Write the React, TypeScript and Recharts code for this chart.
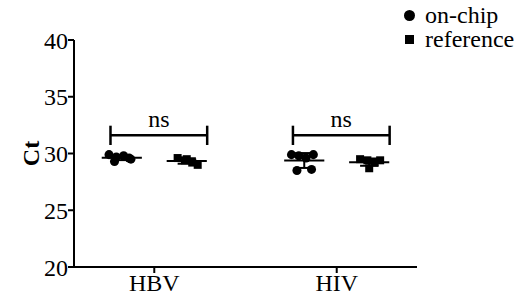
import React from 'react';
import {
  ScatterChart, Scatter, XAxis, YAxis, ZAxis, ReferenceLine,
} from 'recharts';

const categories = ['HBV', 'HIV'];
const yTicks = [20, 25, 30, 35, 40];

// Ct values
const onChipHBV = [29.9, 29.7, 29.8, 29.5, 29.3, 29.6];
const referenceHBV = [29.6, 29.4, 29.2, 29.5, 29.0];
const onChipHIV = [29.9, 29.8, 29.6, 29.9, 28.5, 28.6];
const referenceHIV = [29.5, 29.4, 29.2, 28.7, 29.4];

// horizontal spread of the dots inside a group (x units)
const onChipJitter = [-0.07, -0.03, 0.01, 0.05, -0.04, 0.04];
const referenceJitter = [-0.05, -0.01, 0.03, 0.0, 0.06];

const GROUP_OFFSET = 0.178;
const FONT = 'Liberation Serif';

const toPoints = (vals: number[], center: number, jitter: number[]) =>
  vals.map((v, i) => ({ x: center + jitter[i % jitter.length], y: v }));

const mean = (a: number[]) => a.reduce((s, v) => s + v, 0) / a.length;
const sd = (a: number[]) => {
  const m = mean(a);
  return Math.sqrt(a.reduce((s, v) => s + (v - m) * (v - m), 0) / (a.length - 1));
};

const groups = [
  { vals: onChipHBV, center: 1 - GROUP_OFFSET },
  { vals: referenceHBV, center: 1 + GROUP_OFFSET },
  { vals: onChipHIV, center: 2 - GROUP_OFFSET },
  { vals: referenceHIV, center: 2 + GROUP_OFFSET },
];

const onChipPoints = [
  ...toPoints(onChipHBV, 1 - GROUP_OFFSET, onChipJitter),
  ...toPoints(onChipHIV, 2 - GROUP_OFFSET, onChipJitter),
];
const referencePoints = [
  ...toPoints(referenceHBV, 1 + GROUP_OFFSET, referenceJitter),
  ...toPoints(referenceHIV, 2 + GROUP_OFFSET, referenceJitter),
];

const BRACKET_Y = 31.6;
const BRACKET_CAP = 0.85;

const CtLabel = (props: any) => {
  const { viewBox } = props;
  const cy = viewBox.y + viewBox.height / 2;
  return (
    <text x={31} y={cy} transform={`rotate(-90, 31, ${cy})`} textAnchor="middle"
      dominantBaseline="central" style={{ fontFamily: FONT, fontWeight: 'bold', fontSize: 24 }} fill="#000">
      Ct
    </text>
  );
};

const tickStyle = { fill: '#000', fontSize: 24, style: { fontFamily: FONT } };

export default function App() {
  return (
    <div style={{ position: 'absolute', left: 0, top: 0, width: 519, height: 300, background: '#fff', fontFamily: FONT, overflow: 'hidden' }}>
      <ScatterChart width={519} height={300} margin={{ top: 40, right: 102, bottom: 0, left: 0 }}>
        <XAxis
          type="number" dataKey="x" domain={[0.56, 2.44]} ticks={[1, 2]}
          tickFormatter={(v: number) => categories[v - 1]}
          height={33} allowDataOverflow
          axisLine={{ stroke: '#000', strokeWidth: 2 }}
          tickLine={{ stroke: '#000', strokeWidth: 2 }} tickSize={6} tickMargin={1}
          tick={tickStyle}
        />
        <YAxis
          type="number" dataKey="y" domain={[20, 40]} ticks={yTicks} width={74}
          axisLine={{ stroke: '#000', strokeWidth: 2 }}
          tickLine={{ stroke: '#000', strokeWidth: 2 }} tickSize={6} tickMargin={0}
          tick={tickStyle}
          label={<CtLabel />}
        />
        <ZAxis range={[115, 115]} />

        {groups.map((g, i) => {
          const m = mean(g.vals);
          const s = sd(g.vals);
          return (
            <React.Fragment key={`g-${i}`}>
              <ReferenceLine segment={[{ x: g.center - 0.11, y: m }, { x: g.center + 0.11, y: m }]} stroke="#000" strokeWidth={2} />
              <ReferenceLine segment={[{ x: g.center, y: m - s }, { x: g.center, y: m + s }]} stroke="#000" strokeWidth={2} />
              <ReferenceLine segment={[{ x: g.center - 0.05, y: m + s }, { x: g.center + 0.05, y: m + s }]} stroke="#000" strokeWidth={2} />
              <ReferenceLine segment={[{ x: g.center - 0.05, y: m - s }, { x: g.center + 0.05, y: m - s }]} stroke="#000" strokeWidth={2} />
            </React.Fragment>
          );
        })}

        <Scatter name="on-chip" data={onChipPoints} fill="#000" shape="circle" isAnimationActive={false} />
        <Scatter name="reference" data={referencePoints} fill="#000" shape="square" isAnimationActive={false} />

        {[1, 2].map((c) => (
          <React.Fragment key={`b-${c}`}>
            <ReferenceLine segment={[{ x: c - 0.24, y: BRACKET_Y }, { x: c + 0.29, y: BRACKET_Y }]} stroke="#000" strokeWidth={2.5}
              label={{ value: 'ns', position: 'top', fill: '#000', fontSize: 24, offset: 8, style: { fontFamily: FONT } }} />
            <ReferenceLine segment={[{ x: c - 0.24, y: BRACKET_Y - BRACKET_CAP }, { x: c - 0.24, y: BRACKET_Y + BRACKET_CAP }]} stroke="#000" strokeWidth={2.5} />
            <ReferenceLine segment={[{ x: c + 0.29, y: BRACKET_Y - BRACKET_CAP }, { x: c + 0.29, y: BRACKET_Y + BRACKET_CAP }]} stroke="#000" strokeWidth={2.5} />
          </React.Fragment>
        ))}
      </ScatterChart>

      <div style={{ position: 'absolute', left: 404, top: 3, fontSize: 24, color: '#000', lineHeight: '24px', whiteSpace: 'nowrap' }}>
        <div style={{ display: 'flex', alignItems: 'center' }}>
          <span style={{ width: 11, height: 11, borderRadius: 6, background: '#000', display: 'inline-block', marginRight: 10 }} />
          on-chip
        </div>
        <div style={{ display: 'flex', alignItems: 'center' }}>
          <span style={{ width: 9, height: 9, background: '#000', display: 'inline-block', marginLeft: 1, marginRight: 11 }} />
          reference
        </div>
      </div>
    </div>
  );
}
